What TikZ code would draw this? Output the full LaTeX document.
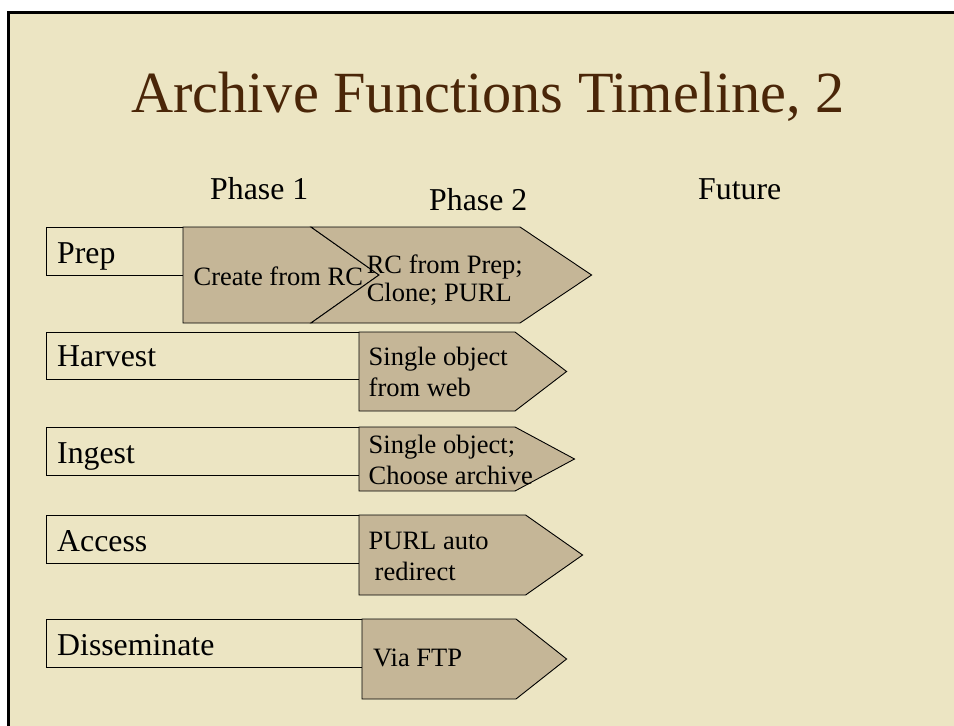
\documentclass[tikz,border=0pt]{standalone}
\usepackage{fontspec}
\setmainfont{Liberation Serif}
\definecolor{parch}{HTML}{ECE5C3}
\definecolor{tanfill}{HTML}{C5B697}
\definecolor{titlebrown}{HTML}{4A2608}
\begin{document}
\begin{tikzpicture}[x=1pt,y=-1pt,
  rowbox/.style={draw=black,line width=0.9pt},
  tabshape/.style={draw=black,fill=tanfill,line width=0.9pt,line join=miter},
  rowlabel/.style={font=\fontsize{31.8}{34}\selectfont,anchor=base west,inner sep=0pt},
  phaselabel/.style={font=\fontsize{31.8}{34}\selectfont,anchor=base west,inner sep=0pt},
  tabtext/.style={font=\fontsize{26.5}{30}\selectfont,anchor=base west,inner sep=0pt},
  titletext/.style={font=\fontsize{58.3}{62}\selectfont,text=titlebrown,anchor=base,inner sep=0pt}]
\useasboundingbox (0,0) rectangle (954,726);
% page and frame
\fill[white] (0,0) rectangle (954,726);
\fill[parch] (8,12) rectangle (954,726);
\draw[black,line width=3pt] (8,726) -- (8,12) -- (954,12);
% title and phase labels
\node[titletext] (title) at (488,112.7) {Archive Functions Timeline, 2};
\node[phaselabel] (ph1) at (210,199) {Phase 1};
\node[phaselabel] (ph2) at (429,210) {Phase 2};
\node[phaselabel] (fut) at (698,199) {Future};
% Prep row
\draw[rowbox] (46,227) rectangle (183,275);
\draw[tabshape] (183,227) -- (311,227) -- (379,275) -- (311,323) -- (183,323) -- cycle;
\draw[tabshape] (311,227) -- (520,227) -- (591.6,275) -- (520,323) -- (311,323) -- (379,275) -- cycle;
\node[rowlabel] (prep) at (57,263) {Prep};
\node[tabtext] (create) at (193.5,285) {Create from RC};
\node[tabtext] (rcprep) at (366.6,273.3) {RC from Prep;};
\node[tabtext] (clone) at (366.6,301.7) {Clone; PURL};
% Harvest row
\draw[rowbox] (46,332) rectangle (359,379);
\draw[tabshape] (359,332) -- (515,332) -- (566.6,371.5) -- (515,411) -- (359,411) -- cycle;
\node[rowlabel] (harvest) at (57,366.7) {Harvest};
\node[tabtext] (single1) at (368.5,365) {Single object};
\node[tabtext] (fromweb) at (368.5,396) {from web};
% Ingest row
\draw[rowbox] (46,427) rectangle (359,475);
\draw[tabshape] (359,427) -- (515,427) -- (574.5,459) -- (515,491) -- (359,491) -- cycle;
\node[rowlabel] (ingest) at (57,463) {Ingest};
\node[tabtext] (single2) at (368.5,453.3) {Single object;};
\node[tabtext] (choose) at (368.5,484.3) {Choose archive};
% Access row
\draw[rowbox] (46,515) rectangle (359,563);
\draw[tabshape] (359,515) -- (525.6,515) -- (582.6,555) -- (525.6,595) -- (359,595) -- cycle;
\node[rowlabel] (access) at (57,551.7) {Access};
\node[tabtext] (purl) at (368.5,549.3) {PURL auto};
\node[tabtext] (redirect) at (374.5,580.7) {redirect};
% Disseminate row
\draw[rowbox] (46,619) rectangle (362,667);
\draw[tabshape] (362,619) -- (516,619) -- (566.6,659) -- (516,699) -- (362,699) -- cycle;
\node[rowlabel] (dissem) at (57,655) {Disseminate};
\node[tabtext] (ftp) at (373,666.7) {Via FTP};
\end{tikzpicture}
\end{document}
